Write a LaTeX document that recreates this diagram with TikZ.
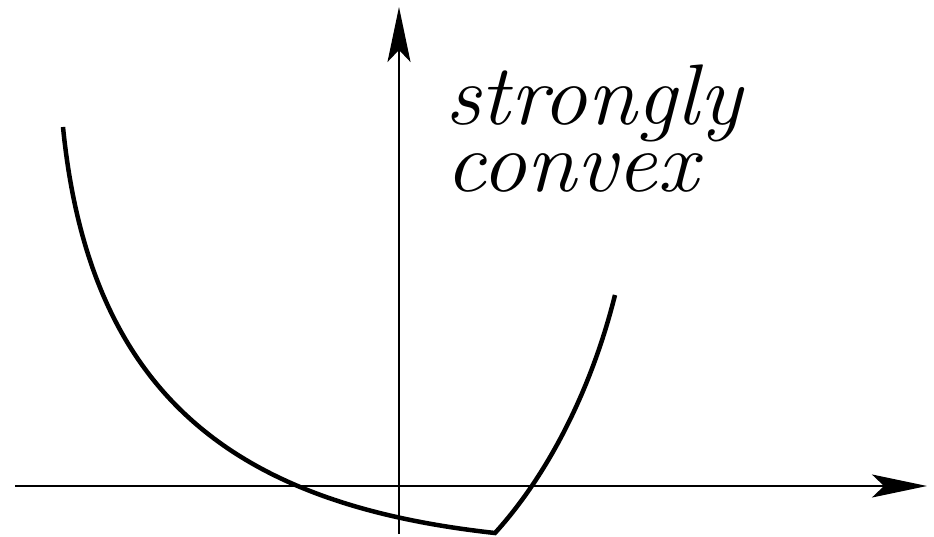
\documentclass[tikz,border=0pt]{standalone}
\usetikzlibrary{arrows.meta}
\tikzset{
  axis/.style={line width=2.2pt, -{Stealth[length=55pt, width=23pt, inset=12pt]}},
  graph/.style={line width=4.5pt, line join=miter},
  txtlabel/.style={font=\itshape\fontsize{86}{67}\selectfont, align=left, inner sep=0pt}
}
\begin{document}
\begin{tikzpicture}[x=1pt,y=-1pt]
\useasboundingbox (0,0) rectangle (934,537);
\coordinate (xs) at (15,486);
\coordinate (xe) at (927,486);
\coordinate (ys) at (399,534);
\coordinate (ye) at (399,7);
\coordinate (c0) at (63,127);
\coordinate (c2) at (495,533);
\coordinate (c3) at (615,295);
\draw[axis] (xs) -- (xe);
\draw[axis] (ys) -- (ye);
\draw[graph] (c0) .. controls (90,400) and (240,505) .. (c2)
  .. controls (545,478) and (590,395) .. (c3);
\node[txtlabel, anchor=base west] (txt) at (445,192) {\scalebox{1.04}[1]{strongly}\\\scalebox{1.05}[1]{convex}};
\end{tikzpicture}
\end{document}
